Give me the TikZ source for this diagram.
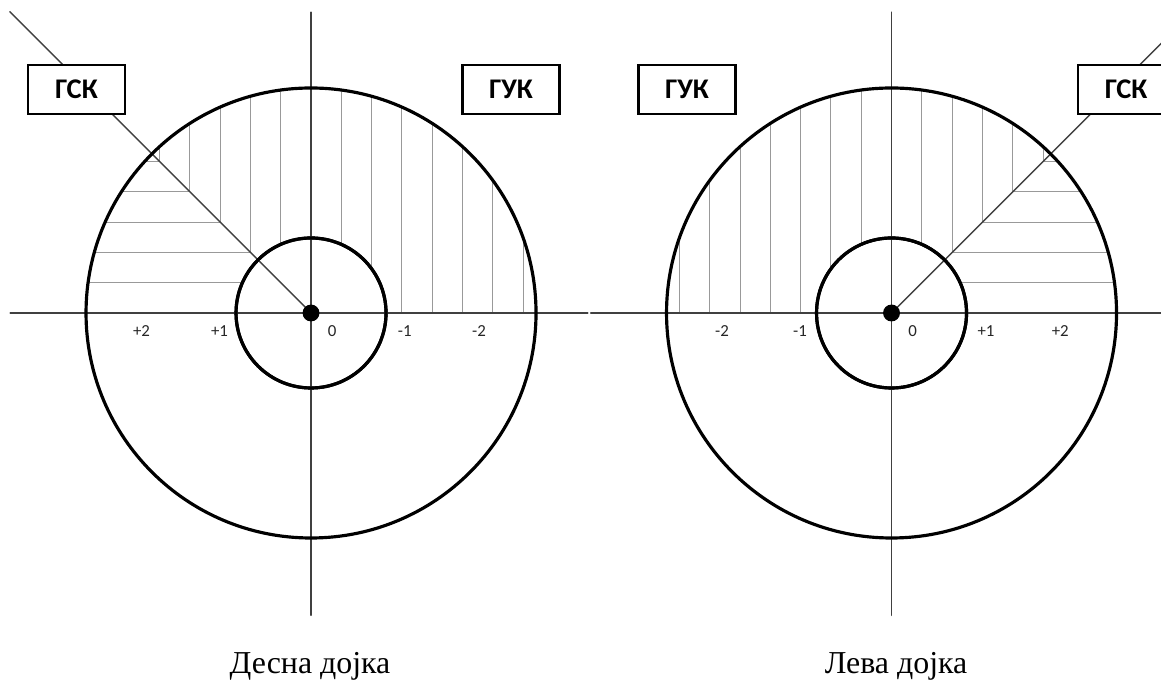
\documentclass[tikz,border=0pt]{standalone}
\usepackage{fontspec}
\setmainfont{Liberation Serif}
\newfontfamily\calfont{Carlito}[BoldFont={Carlito Bold}]
\usepackage{tkz-euclide}
\usetikzlibrary{calc}

\tikzset{
  hatch/.style={line width=0.4pt,color=black!40},
  axis/.style={line width=0.65pt,color=black!75},
  ray/.style={line width=0.55pt,color=black!75},
  ring/.style={line width=1.2pt,color=black},
  tag/.style={draw,line width=0.9pt,fill=white,minimum width=1.29cm,
    minimum height=0.65cm,font=\calfont\fontsize{10.8}{12}\bfseries},
  tick/.style={font=\calfont\fontsize{6.4}{8}\selectfont,color=black!85},
  caption/.style={font=\fontsize{12.1}{14}\selectfont,anchor=base}
}

\begin{document}
\begin{tikzpicture}
\useasboundingbox (-4.147,-4.907) rectangle (11.333,4.173);
\tkzSetUpLine[line width=1.2pt,color=black]
\tkzSetUpPoint[fill=black]

\tkzDefPoints{0/0/O,1/0/A,3/0/B,7.74/0/Q,8.74/0/C,10.74/0/D}
\tkzDefPoints{-4.01/0/W1,3.69/0/E1,0/4.01/N1,0/-4.03/S1,
  3.73/0/W2,11.75/0/E2,7.74/4.01/N2,7.74/-4.03/S2}

\tkzDefPoint(135:5.68){G1}
\tkzDefPoint(11.74,4){G2}

% desna
\begin{scope}
\clip (B) arc (0:180:3) -- cycle;
\foreach \k in {1,...,7}{
  \draw[hatch] (0.404*\k,0) -- (0.404*\k,3);
  \draw[hatch] (-0.404*\k,0.404*\k) -- (-0.404*\k,3);
  \draw[hatch] (-3,0.404*\k) -- (-0.404*\k,0.404*\k);
}
\end{scope}

% leva
\begin{scope}[shift={(Q)}]
\clip (3,0) arc (0:180:3) -- cycle;
\foreach \k in {1,...,7}{
  \draw[hatch] (-0.404*\k,0) -- (-0.404*\k,3);
  \draw[hatch] (0.404*\k,0.404*\k) -- (0.404*\k,3);
  \draw[hatch] (3,0.404*\k) -- (0.404*\k,0.404*\k);
}
\end{scope}

\tkzDrawCircle[ring,fill=white](O,A)
\tkzDrawCircle[ring,fill=white](Q,C)

\tkzDrawSegments[axis](W1,E1 N1,S1 W2,E2 N2,S2)
\tkzDrawSegments[ray](O,G1 Q,G2)

\tkzDrawCircles[ring](O,A O,B Q,C Q,D)

\tkzDrawPoints[size=6](O,Q)

\node[tag] (gsk1) at (-3.127,2.98) {ГСК};
\node[tag] (guk1) at (2.667,2.98) {ГУК};
\node[tag] (guk2) at ($(Q)+(-2.727,2.98)$) {ГУК};
\node[tag] (gsk2) at ($(Q)+(3.127,2.98)$) {ГСК};

\foreach \x/\t [count=\i] in {-2.26/+2,-1.22/+1,0.28/0,1.25/-1,2.24/-2}
  \node[tick] (dt\i) at (\x,-0.24) {\t};
\foreach \x/\t [count=\i] in {-2.26/-2,-1.22/-1,0.28/0,1.26/+1,2.25/+2}
  \node[tick] (lt\i) at ($(Q)+(\x,-0.24)$) {\t};

\node[caption] (desna) at (-0.013,-4.813) {Десна дојка};
\node[caption] (leva) at ($(Q)+(0.06,-4.813)$) {Лева дојка};

\end{tikzpicture}
\end{document}
